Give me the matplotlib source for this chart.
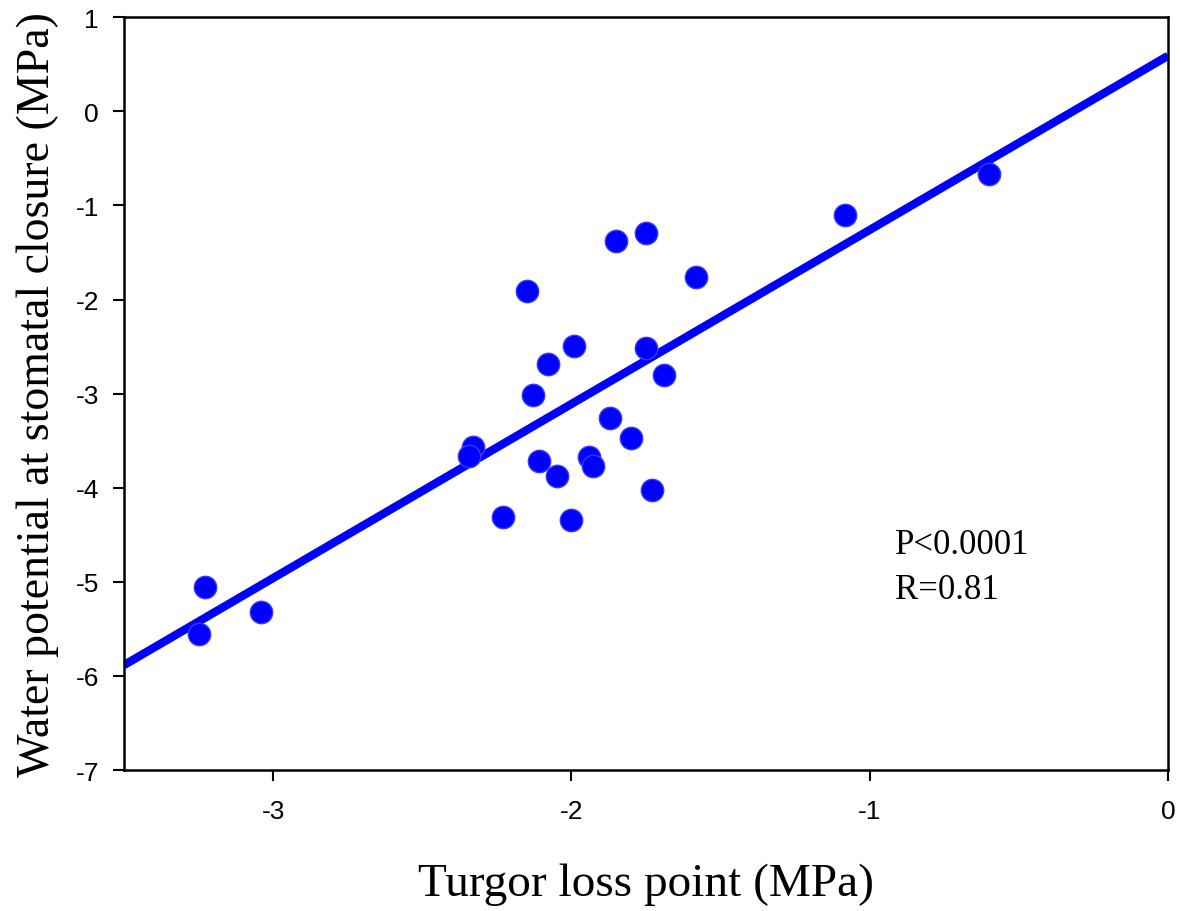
import numpy as np
import matplotlib
matplotlib.use("Agg")
import matplotlib.pyplot as plt

# turgor loss point (x) and water potential at stomatal closure (y), MPa
tlp = [-1.850, -1.749, -1.582, -2.150, -1.990, -2.080, -1.749, -1.690,
       -2.129, -1.870, -1.799, -2.329, -2.342, -2.110, -1.940, -1.928,
       -2.049, -1.729, -2.228, -2.000, -3.228, -3.248, -3.040, -1.084,
       -0.601]
psi_close = [-1.38, -1.29, -1.76, -1.91, -2.49, -2.68, -2.51, -2.80,
             -3.01, -3.26, -3.47, -3.57, -3.66, -3.72, -3.67, -3.77,
             -3.88, -4.02, -4.31, -4.34, -5.06, -5.55, -5.32, -1.10,
             -0.67]

# fitted line
slope = 1.85
intercept = 0.59

xticks = [-3, -2, -1, 0]
yticks = [1, 0, -1, -2, -3, -4, -5, -6, -7]

fig = plt.figure(figsize=(11.81, 9.12), dpi=100)
ax = fig.add_axes([0.105, 0.1546, 0.884, 0.8254])

ax.scatter(tlp, psi_close, s=260, color='#0000ff', edgecolors='#3a3aff',
           linewidths=1, zorder=3)

xx = np.array([-3.5, 0])
ax.plot(xx, slope * xx + intercept, color='#0000ff', lw=6,
        solid_capstyle='butt', zorder=2)

ax.set_xlim(-3.5, 0)
ax.set_ylim(-7, 1)
ax.set_xticks(xticks)
ax.set_yticks(yticks)
ax.set_xticklabels([str(t) for t in xticks], family='Liberation Sans', fontsize=19)
ax.set_yticklabels([str(t) for t in yticks], family='Liberation Sans', fontsize=19)
ax.tick_params(axis='x', direction='out', length=8, width=1.5, pad=13)
ax.tick_params(axis='y', direction='out', length=8, width=1.5, pad=10)
for sp in ax.spines.values():
    sp.set_linewidth(1.8)

ax.set_xlabel('Turgor loss point (MPa)', family='Liberation Serif',
              fontsize=34, labelpad=28)
ax.set_ylabel('Water potential at stomatal closure (MPa)',
              family='Liberation Serif', fontsize=33, labelpad=12)

ax.text(-0.916, -4.60, 'P<0.0001', family='Liberation Serif', fontsize=25,
        va='center', ha='left')
ax.text(-0.916, -5.08, 'R=0.81', family='Liberation Serif', fontsize=25,
        va='center', ha='left')

fig.savefig('out.png', dpi=100)
